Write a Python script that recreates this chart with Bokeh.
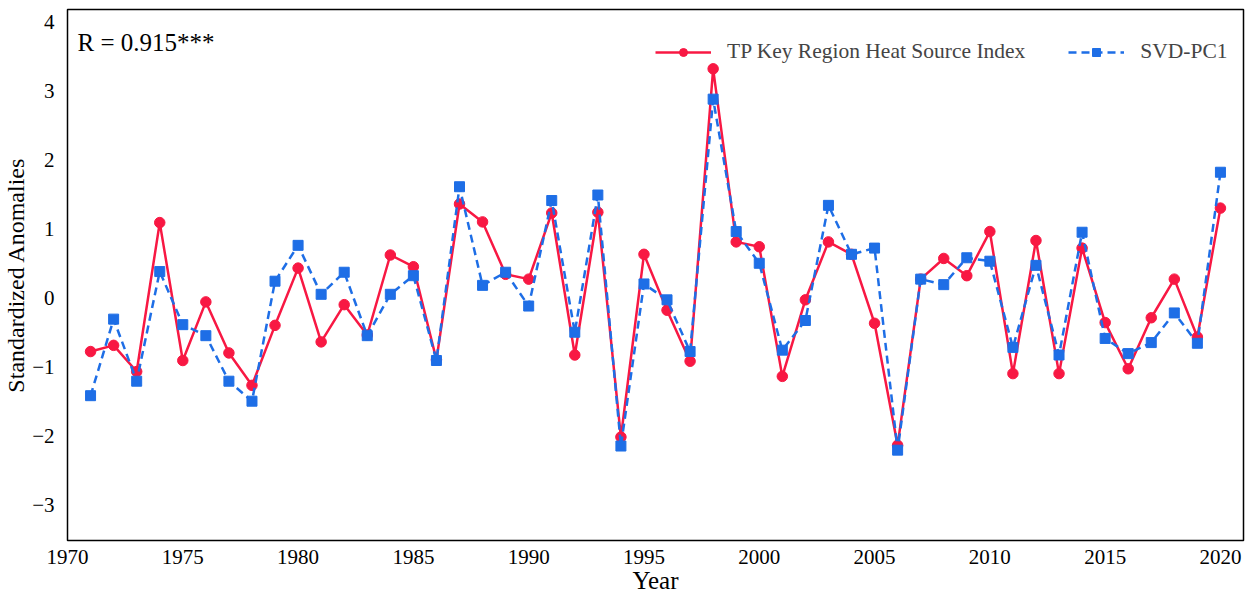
from bokeh.plotting import figure
from bokeh.models import Legend, LegendItem, Label, FixedTicker, CustomJSTickFormatter, Range1d
from bokeh.embed import file_html
from bokeh.resources import INLINE

years = list(range(1971, 2021))
tp_index = [-0.78, -0.69, -1.07, 1.09, -0.91, -0.06, -0.80, -1.27, -0.40, 0.43,
            -0.64, -0.10, -0.54, 0.62, 0.45, -0.90, 1.36, 1.10, 0.34, 0.27,
            1.23, -0.83, 1.24, -2.02, 0.63, -0.18, -0.92, 3.32, 0.81, 0.74,
            -1.14, -0.03, 0.81, 0.63, -0.37, -2.14, 0.27, 0.57, 0.32, 0.96,
            -1.10, 0.83, -1.10, 0.72, -0.36, -1.03, -0.29, 0.27, -0.57, 1.30]
svd_pc1 = [-1.42, -0.31, -1.21, 0.38, -0.39, -0.55, -1.21, -1.50, 0.24, 0.76,
           0.05, 0.37, -0.55, 0.05, 0.32, -0.91, 1.61, 0.18, 0.37, -0.12,
           1.41, -0.50, 1.49, -2.15, 0.20, -0.03, -0.78, 2.88, 0.96, 0.50,
           -0.76, -0.33, 1.34, 0.63, 0.72, -2.21, 0.27, 0.19, 0.58, 0.53,
           -0.72, 0.47, -0.83, 0.95, -0.59, -0.81, -0.65, -0.22, -0.66, 1.82]
x_ticks = [1970, 1975, 1980, 1985, 1990, 1995, 2000, 2005, 2010, 2015, 2020]
y_ticks = [-3, -2, -1, 0, 1, 2, 3, 4]

RED = "#F81843"
BLUE = "#1E6EE6"
FONT = "Liberation Serif"

p = figure(width=1249, height=596, output_backend="svg", toolbar_location=None,
           x_range=Range1d(1970, 2021), y_range=Range1d(-3.52, 4.18),
           min_border_left=67, min_border_right=6, min_border_top=9, min_border_bottom=51)

p.outline_line_color = "black"
p.outline_line_width = 1.5
p.xgrid.visible = False
p.ygrid.visible = False

for ax in (p.xaxis[0], p.yaxis[0]):
    ax.axis_line_color = None
    ax.major_tick_line_color = None
    ax.minor_tick_line_color = None
    ax.major_label_text_font = FONT
    ax.major_label_text_font_size = "21px"
    ax.major_label_text_color = "black"
    ax.axis_label_text_font = FONT
    ax.axis_label_text_font_style = "normal"
    ax.axis_label_text_color = "black"

p.xaxis.axis_label_text_font_size = "25px"
p.yaxis.axis_label_text_font_size = "24px"
p.xaxis.ticker = FixedTicker(ticks=x_ticks)
p.yaxis.ticker = FixedTicker(ticks=y_ticks)
p.yaxis.formatter = CustomJSTickFormatter(code="return tick < 0 ? '\u2212' + Math.abs(tick) : String(tick);")
p.xaxis.axis_label = "Year"
p.yaxis.axis_label = "Standardized Anomalies"
p.xaxis.major_label_standoff = 3
p.yaxis.major_label_standoff = 7
p.xaxis.axis_label_standoff = 0
p.yaxis.axis_label_standoff = 0

r1l = p.line(years, tp_index, line_color=RED, line_width=2.5)
r1m = p.scatter(years, tp_index, marker="circle", size=10.5, fill_color=RED, line_color=RED)
r2l = p.line(years, svd_pc1, line_color=BLUE, line_width=2.5, line_dash="8 5")
r2m = p.scatter(years, svd_pc1, marker="square", size=10, fill_color=BLUE, line_color=BLUE)

legend = Legend(items=[LegendItem(label="TP Key Region Heat Source Index", renderers=[r1l, r1m]),
                       LegendItem(label="SVD-PC1", renderers=[r2l, r2m])],
                orientation="horizontal", location=(588, 476))
legend.border_line_color = None
legend.background_fill_alpha = 0
legend.label_text_font = FONT
legend.label_text_font_size = "21.5px"
legend.glyph_width = 56
legend.label_standoff = 16
legend.spacing = 43
legend.margin = 0
legend.padding = 6
p.add_layout(legend)

p.add_layout(Label(x=10, y=485, x_units="screen", y_units="screen", text="R = 0.915***",
                   text_font=FONT, text_font_size="25px", text_color="black"))

open("out.html", "w").write(file_html(p, INLINE))
